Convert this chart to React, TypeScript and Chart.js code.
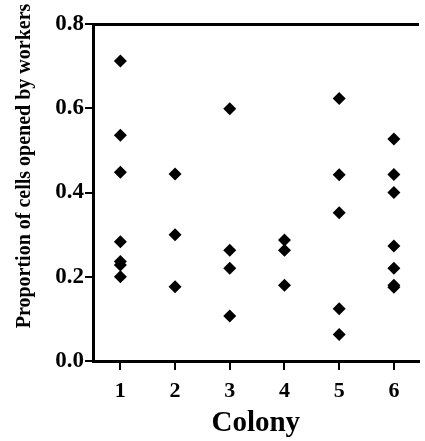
import React, { useEffect, useRef } from "react";
import { Chart, registerables } from "chart.js";

Chart.register(...registerables);

const colonies = [1, 2, 3, 4, 5, 6];
const colony1 = [0.712, 0.536, 0.448, 0.283, 0.236, 0.228, 0.2];
const colony2 = [0.444, 0.3, 0.176];
const colony3 = [0.599, 0.263, 0.22, 0.107];
const colony4 = [0.287, 0.263, 0.18];
const colony5 = [0.623, 0.442, 0.352, 0.124, 0.063];
const colony6 = [0.527, 0.443, 0.4, 0.273, 0.22, 0.18, 0.175];
const yTickValues = [0, 0.2, 0.4, 0.6, 0.8];
const xTitle = "Colony";
const yTitle = "Proportion of cells opened by workers";

const FONT = '"Liberation Serif", "Times New Roman", serif';

export default function App() {
  const ref = useRef<HTMLCanvasElement | null>(null);

  useEffect(() => {
    if (!ref.current) return;
    const series = [colony1, colony2, colony3, colony4, colony5, colony6];
    const points = series.flatMap((vals, i) =>
      vals.map((v) => ({ x: colonies[i], y: v }))
    );

    const yTitlePlugin = {
      id: "yTitlePlugin",
      afterDraw(chart: any) {
        const ctx = chart.ctx;
        ctx.save();
        ctx.translate(25, 166);
        ctx.rotate(-Math.PI / 2);
        ctx.font = `bold 20px ${FONT}`;
        ctx.textAlign = "center";
        ctx.textBaseline = "middle";
        ctx.fillStyle = "#000";
        ctx.fillText(yTitle, 0, 0);
        ctx.restore();
      },
    };

    const chart = new Chart(ref.current, {
      type: "scatter",
      data: {
        datasets: [
          {
            data: points,
            pointStyle: "rectRot",
            pointRadius: 6.5,
            pointHoverRadius: 6.5,
            backgroundColor: "#000",
            borderColor: "#000",
            borderWidth: 0,
          },
        ],
      },
      options: {
        animation: false,
        responsive: false,
        events: [],
        layout: { padding: { top: 0, right: 0, bottom: 0, left: 0 } },
        plugins: {
          legend: { display: false },
          tooltip: { enabled: false },
        },
        scales: {
          x: {
            type: "linear",
            position: "bottom",
            min: 0.5,
            max: 6.45,
            afterBuildTicks: (scale: any) => {
              scale.ticks = colonies.map((v) => ({ value: v }));
            },
            afterFit: (scale: any) => {
              scale.height = 80;
            },
            grid: {
              drawOnChartArea: false,
              drawTicks: true,
              tickLength: 9,
              lineWidth: 2,
              color: "#000",
            },
            border: { display: true, width: 3, color: "#000" },
            ticks: {
              color: "#000",
              padding: 8,
              maxRotation: 0,
              font: { family: FONT, size: 22, weight: "bold" },
              callback: (v: any) => String(v),
            },
            title: {
              display: true,
              text: xTitle,
              color: "#000",
              padding: { top: 0, bottom: 0 },
              font: { family: FONT, size: 29, weight: "bold" },
            },
          },
          xTop: {
            type: "linear",
            position: "top",
            min: 0.5,
            max: 6.45,
            afterFit: (scale: any) => {
              scale.height = 24;
            },
            grid: { display: false, drawTicks: false },
            border: { display: true, width: 3, color: "#000" },
            ticks: { display: false },
          },
          y: {
            type: "linear",
            position: "left",
            min: 0,
            max: 0.8,
            afterBuildTicks: (scale: any) => {
              scale.ticks = yTickValues.map((v) => ({ value: v }));
            },
            afterFit: (scale: any) => {
              scale.width = 93;
            },
            grid: {
              drawOnChartArea: false,
              drawTicks: true,
              tickLength: 8,
              lineWidth: 2,
              color: "#000",
            },
            border: { display: true, width: 3, color: "#000" },
            ticks: {
              color: "#000",
              padding: 1,
              font: { family: FONT, size: 23, weight: "bold" },
              callback: (v: any) => Number(v).toFixed(1),
            },
          },
        },
      } as any,
      plugins: [yTitlePlugin],
    });

    return () => chart.destroy();
  }, []);

  return (
    <div style={{ position: "absolute", left: 0, top: 0, width: 425, height: 441, background: "#fff" }}>
      <canvas ref={ref} width={425} height={441} style={{ display: "block", width: 425, height: 441 }} />
    </div>
  );
}
